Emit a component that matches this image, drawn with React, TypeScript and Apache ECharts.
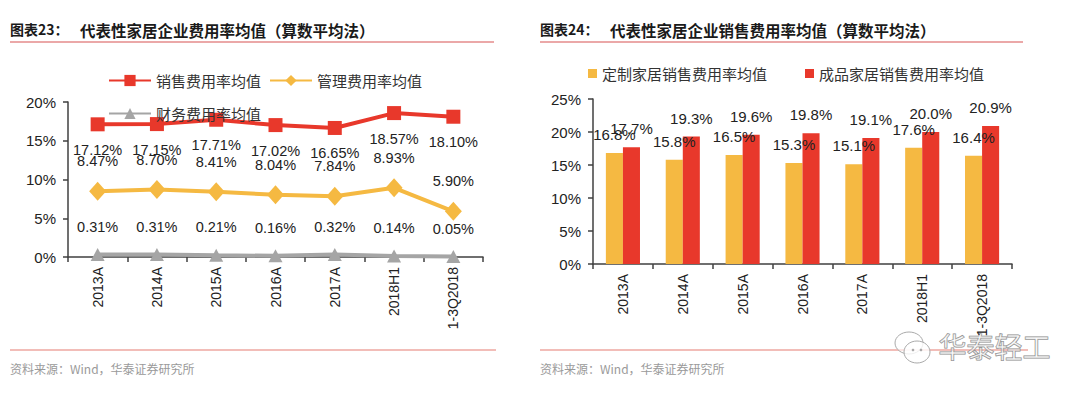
import React, { useEffect, useRef } from "react";
import * as echarts from "echarts";

const categories = ["2013A", "2014A", "2015A", "2016A", "2017A", "2018H1", "1-3Q2018"];
const salesRate = [17.12, 17.15, 17.71, 17.02, 16.65, 18.57, 18.1];
const adminRate = [8.47, 8.7, 8.41, 8.04, 7.84, 8.93, 5.9];
const financeRate = [0.31, 0.31, 0.21, 0.16, 0.32, 0.14, 0.05];
const customSales = [16.8, 15.8, 16.5, 15.3, 15.1, 17.6, 16.4];
const finishedSales = [17.7, 19.3, 19.6, 19.8, 19.1, 20.0, 20.9];

const RED = "#e8382b";
const YELLOW = "#f5b942";
const GREY = "#a5a5a5";
const CJK = '"Noto Sans CJK SC", sans-serif';
const LAT = '"Liberation Sans", Arial, sans-serif';

export default function App() {
  const ref = useRef<HTMLDivElement>(null);
  useEffect(() => {
    if (!ref.current) return;
    const chart = echarts.init(ref.current, null, { renderer: "svg" });
    const axisLine = { show: true, lineStyle: { color: "#404040", width: 1.5 } };
    const yAxisCommon = {
      type: "value" as const,
      min: 0,
      interval: 5,
      axisLine,
      axisTick: { show: true, length: 5, inside: false, lineStyle: { color: "#404040", width: 1.5 } },
      splitLine: { show: false },
      axisLabel: { formatter: "{value}%", color: "#222", fontSize: 15, fontFamily: LAT, margin: 12 },
    };
    const xAxisCommon = {
      type: "category" as const,
      data: categories,
      axisLine,
      axisTick: { show: true, length: 5, alignWithLabel: false, lineStyle: { color: "#404040", width: 1.5 } },
      axisLabel: { rotate: 90, color: "#222", fontSize: 14, fontFamily: LAT, margin: 10, interval: 0 },
    };
    const lineLabel = (pos: "top" | "bottom", dist: number) => ({
      show: true,
      position: pos,
      distance: dist,
      color: "#222",
      fontSize: 14.5,
      fontFamily: LAT,
      formatter: (p: any) => Number(p.value).toFixed(2) + "%",
    });
    const barLabel = {
      show: true,
      position: "top" as const,
      distance: 11,
      color: "#222",
      fontSize: 15,
      fontFamily: LAT,
      formatter: (p: any) => Number(p.value).toFixed(1) + "%",
    };
    const legendText = { color: "#333", fontSize: 15, fontFamily: CJK };
    chart.setOption({
      animation: false,
      backgroundColor: "#fff",
      grid: [
        { left: 68, right: 597, top: 102, bottom: 141, containLabel: false },
        { left: 593, right: 68, top: 99, bottom: 134, containLabel: false },
      ],
      xAxis: [
        { ...xAxisCommon, gridIndex: 0 },
        { ...xAxisCommon, gridIndex: 1 },
      ],
      yAxis: [
        { ...yAxisCommon, gridIndex: 0, max: 20 },
        { ...yAxisCommon, gridIndex: 1, max: 25 },
      ],
      legend: [
        {
          left: 103, top: 68, itemWidth: 42, itemHeight: 14, itemGap: 8,
          data: ["销售费用率均值", "管理费用率均值"], textStyle: legendText, z: 10,
        },
        {
          left: 103, top: 101, itemWidth: 42, itemHeight: 14,
          data: ["财务费用率均值"], textStyle: legendText, z: 10,
        },
        {
          left: 583, top: 61, itemWidth: 9, itemHeight: 9, icon: "rect",
          data: ["定制家居销售费用率均值"], textStyle: legendText,
        },
        {
          left: 800, top: 61, itemWidth: 9, itemHeight: 9, icon: "rect",
          data: ["成品家居销售费用率均值"], textStyle: legendText,
        },
      ],
      series: [
        {
          name: "销售费用率均值", type: "line", xAxisIndex: 0, yAxisIndex: 0, data: salesRate,
          color: RED, symbol: "rect", symbolSize: 14,
          lineStyle: { color: RED, width: 4 }, itemStyle: { color: RED },
          label: lineLabel("bottom", 11), z: 4,
        },
        {
          name: "管理费用率均值", type: "line", xAxisIndex: 0, yAxisIndex: 0, data: adminRate,
          color: YELLOW, symbol: "diamond", symbolSize: [17, 19],
          lineStyle: { color: YELLOW, width: 4 }, itemStyle: { color: YELLOW },
          label: lineLabel("top", 13), z: 3,
        },
        {
          name: "财务费用率均值", type: "line", xAxisIndex: 0, yAxisIndex: 0, data: financeRate,
          color: GREY, symbol: "triangle", symbolSize: [14, 13],
          lineStyle: { color: GREY, width: 4 }, itemStyle: { color: GREY },
          label: lineLabel("top", 14), z: 2,
        },
        {
          name: "定制家居销售费用率均值", type: "bar", xAxisIndex: 1, yAxisIndex: 1, data: customSales,
          itemStyle: { color: YELLOW }, barGap: "0%", barCategoryGap: "43%", label: barLabel,
        },
        {
          name: "成品家居销售费用率均值", type: "bar", xAxisIndex: 1, yAxisIndex: 1, data: finishedSales,
          itemStyle: { color: RED }, barGap: "0%", barCategoryGap: "43%", label: barLabel,
        },
      ],
      graphic: [
        { type: "text", left: 10, top: 22, style: { text: "图表23：", font: `bold 14px ${CJK}`, fill: "#1a1a1a" } },
        { type: "text", left: 80, top: 22, style: { text: "代表性家居企业费用率均值（算数平均法）", font: `bold 15.5px ${CJK}`, fill: "#1a1a1a" } },
        { type: "text", left: 540, top: 22, style: { text: "图表24：", font: `bold 14px ${CJK}`, fill: "#1a1a1a" } },
        { type: "text", left: 610, top: 22, style: { text: "代表性家居企业销售费用率均值（算数平均法）", font: `bold 15.5px ${CJK}`, fill: "#1a1a1a" } },
        { type: "line", shape: { x1: 10, y1: 42, x2: 494, y2: 42 }, style: { stroke: "#e48b8b", lineWidth: 1.5 } },
        { type: "line", shape: { x1: 540, y1: 42, x2: 1023, y2: 42 }, style: { stroke: "#e48b8b", lineWidth: 1.5 } },
        { type: "line", shape: { x1: 10, y1: 350, x2: 496, y2: 350 }, style: { stroke: "#eea7a0", lineWidth: 1.5 } },
        { type: "line", shape: { x1: 540, y1: 350, x2: 1028, y2: 350 }, style: { stroke: "#eea7a0", lineWidth: 1.5 } },
        { type: "text", left: 10, top: 362, style: { text: "资料来源：Wind，华泰证券研究所", font: `12px ${CJK}`, fill: "#9a9a9a" } },
        { type: "text", left: 540, top: 362, style: { text: "资料来源：Wind，华泰证券研究所", font: `12px ${CJK}`, fill: "#9a9a9a" } },
        { type: "ellipse", shape: { cx: 909, cy: 343, rx: 14, ry: 11 }, style: { fill: "rgba(255,255,255,0.6)", stroke: "#aaa", lineWidth: 1 } },
        { type: "ellipse", shape: { cx: 917, cy: 352, rx: 13, ry: 11 }, style: { fill: "rgba(255,255,255,0.8)", stroke: "#aaa", lineWidth: 1 } },
        { type: "circle", shape: { cx: 913, cy: 350, r: 1.3 }, style: { fill: "#aaa" } },
        { type: "circle", shape: { cx: 921, cy: 350, r: 1.3 }, style: { fill: "#aaa" } },
        { type: "text", left: 938, top: 331, style: { text: "华泰轻工", font: `28px ${CJK}`, fill: "rgba(255,255,255,0.5)", stroke: "#888", lineWidth: 1 } },
      ],
    });
    return () => chart.dispose();
  }, []);
  return <div ref={ref} style={{ position: "absolute", left: 0, top: 0, width: 1080, height: 398 }} />;
}
